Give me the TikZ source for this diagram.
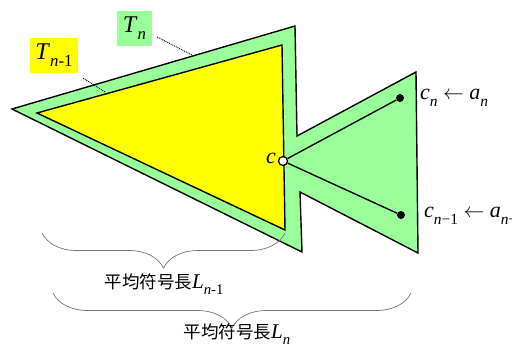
\documentclass[tikz,border=0pt]{standalone}
\usepackage{fontspec}
\setmainfont{Liberation Serif}
\newfontfamily\jpfont{Noto Sans CJK JP}
\usetikzlibrary{decorations.pathreplacing,calc}
\definecolor{codegreen}{HTML}{99FF99}
\definecolor{codeyellow}{HTML}{FFFF00}
\newcommand{\lowidx}[1]{\raisebox{-0.3em}{\scalebox{0.7}{#1}}}

\begin{document}
\begin{tikzpicture}[x=1pt,y=-1pt,>=stealth,
    outline/.style={draw=black,line width=1.4pt,line join=miter},
    treelabel/.style={font=\fontsize{24}{24}\selectfont,inner sep=0pt,minimum height=35pt},
    leader/.style={densely dotted,line width=0.9pt},
    codeword/.style={font=\fontsize{22}{22}\selectfont,anchor=west,inner sep=0pt},
    leafdot/.style={circle,fill=black,inner sep=0pt,minimum size=8pt},
    avglen/.style={decorate,decoration={brace,mirror,amplitude=35pt},draw=black!55,line width=0.7pt},
    avgtext/.style={font=\fontsize{17.5}{18}\selectfont,inner sep=0pt}]
  \useasboundingbox (0,0) rectangle (512,349);
  % tree T_n (green) and T_{n-1} (yellow)
  \draw[outline,fill=codegreen] (12,109) -- (295,26) -- (297,136) -- (416,72)
    -- (418,253) -- (300,192) -- (302,252) -- cycle;
  \draw[outline,fill=codeyellow] (37,113) -- (282,45) -- (285,230) -- cycle;
  % split node c and its two leaves
  \node[circle,draw=black,fill=white,line width=1.2pt,inner sep=0pt,minimum size=9pt] (c) at (283,161) {};
  \node[leafdot] (cn) at (400,98) {};
  \node[leafdot] (cm) at (401,215) {};
  \draw[line width=1.4pt] (c) -- (cn);
  \draw[line width=1.4pt] (c) -- (cm);
  \node[font=\fontsize{22}{22}\selectfont\itshape,anchor=east,inner sep=0pt] (clab) at (276,158) {c};
  \node[codeword] (cnlab) at (420,98) {\textit{c}\lowidx{\textit{n}} $\leftarrow$ \textit{a}\lowidx{\textit{n}}};
  \node[codeword] (cmlab) at (424,216) {\textit{c}\lowidx{\textit{n}−1} $\leftarrow$ \textit{a}\lowidx{\textit{n}−1}};
  % labels of the two trees
  \node[treelabel,fill=codegreen,minimum width=35pt] (tn) at (134.5,28) {\textit{T}\lowidx{\textit{n}}};
  \node[treelabel,fill=codeyellow,minimum width=48pt] (tm) at (54,55.5) {\textit{T}\lowidx{\textit{n}-1}};
  \coordinate (tnend) at (192,55);
  \coordinate (tmend) at (105,92);
  \draw[leader] ($(tn.east)+(5,9)$) -- (tnend);
  \draw[leader] ($(tm.south east)+(5,5)$) -- (tmend);
  % average code lengths
  \draw[avglen] (42,233) -- (285,233);
  \draw[avglen] (53,293) -- (411,293);
  \node[avgtext] (lm) at (164,284) {{\jpfont 平均符号長}{\fontsize{21}{21}\selectfont\textit{L}\lowidx{\textit{n}-1}}};
  \node[avgtext] (ln) at (237,334) {{\jpfont 平均符号長}{\fontsize{21}{21}\selectfont\textit{L}\lowidx{\textit{n}}}};
\end{tikzpicture}
\end{document}
